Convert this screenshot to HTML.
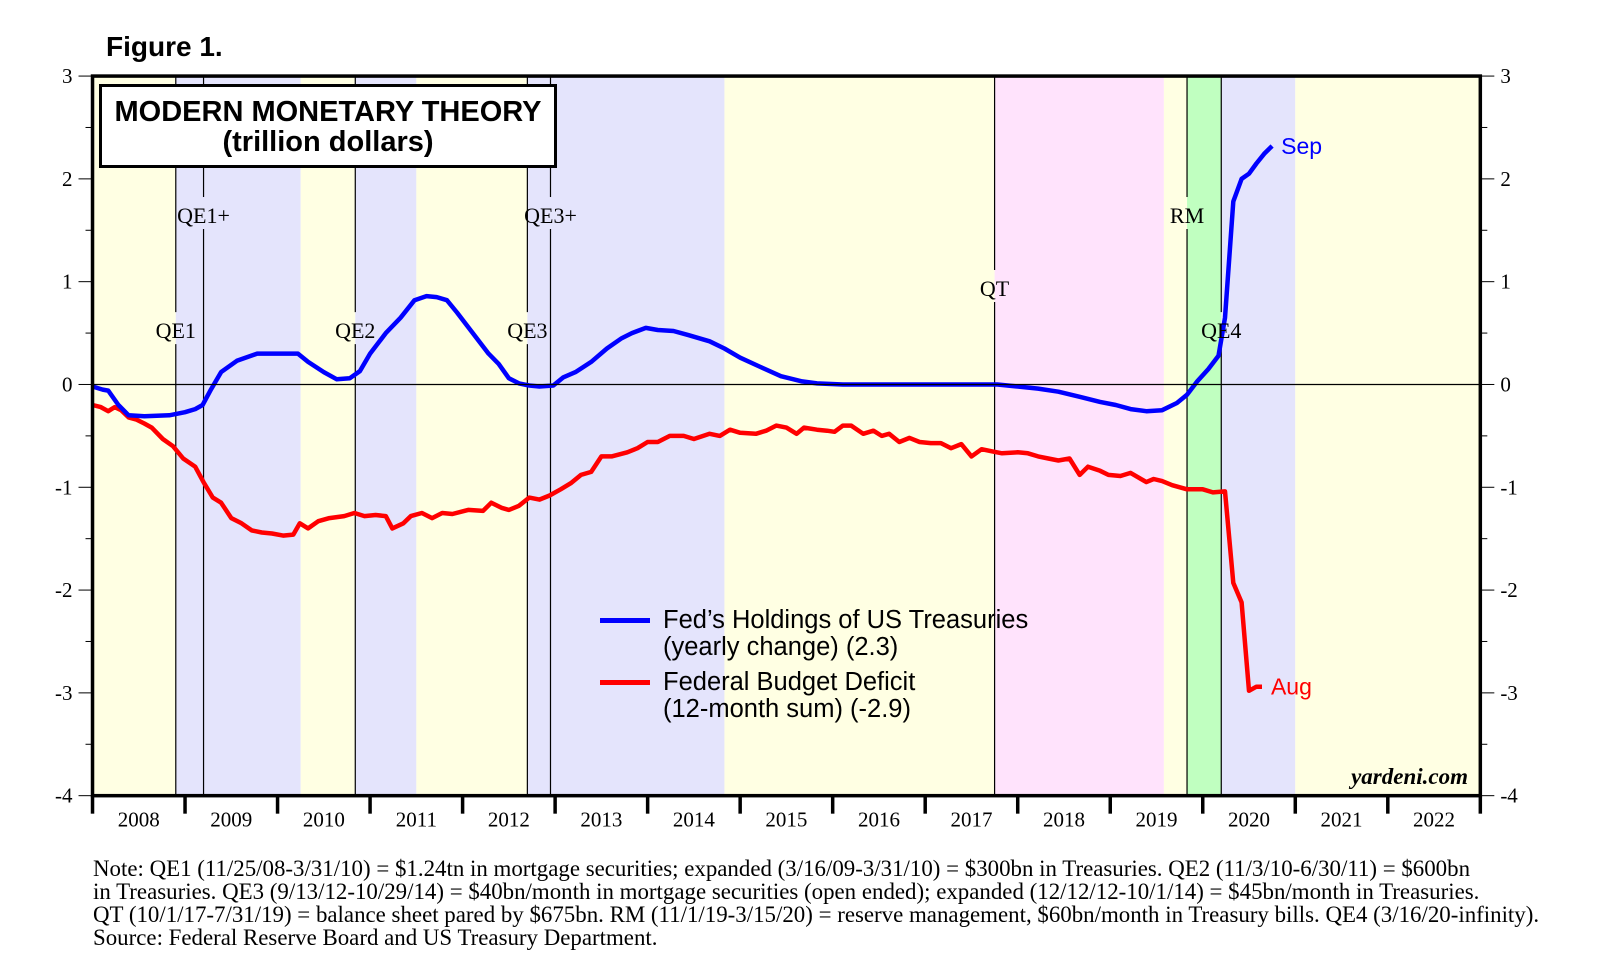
<!DOCTYPE html>
<html><head><meta charset="utf-8"><style>
body{margin:0;background:#fff}
svg{display:block}
text{font-family:"Liberation Serif",serif}
</style></head><body>
<svg id="chart" width="1610" height="961" viewBox="0 0 1610 961">
<g id="bands"></g>
<g id="vlines"></g>
<g id="series"></g>
<g id="axes"></g>
<g id="labels"></g>
</svg>
<script>
const bandStarts=[2008,2008.9,2010.25,2010.84,2011.5,2012.7,2014.83,2017.75,2019.58,2019.83,2020.2,2021.0];
const bandEnds=[2008.9,2010.25,2010.84,2011.5,2012.7,2014.83,2017.75,2019.58,2019.83,2020.2,2021.0,2023];
const bandColors=['#ffffe3','#e4e4fc','#ffffe3','#e4e4fc','#ffffe3','#e4e4fc','#ffffe3','#ffe3fc','#ffffe3','#c0ffc0','#e4e4fc','#ffffe3'];
const eventNames=['QE1','QE1+','QE2','QE3','QE3+','QT','RM','QE4'];
const eventDates=[2008.9,2009.2,2010.84,2012.7,2012.95,2017.75,2019.83,2020.2];
const eventLabelVals=[0.47,1.59,0.47,0.47,1.59,0.88,1.59,0.47];
const yTicks=[3,2,1,0,-1,-2,-3,-4];
const yearLabels=['2008','2009','2010','2011','2012','2013','2014','2015','2016','2017','2018','2019','2020','2021','2022'];
const fedYears=[0,0.11,0.17,0.28,0.39,0.56,0.83,1.0,1.11,1.19,1.28,1.39,1.56,1.78,2.0,2.22,2.33,2.5,2.64,2.78,2.89,3.0,3.17,3.33,3.48,3.61,3.72,3.83,3.94,4.11,4.28,4.39,4.5,4.61,4.72,4.83,4.98,5.09,5.22,5.39,5.56,5.72,5.83,5.98,6.11,6.28,6.44,6.67,6.83,7.0,7.22,7.44,7.67,7.83,8.11,9.0,9.78,10.0,10.22,10.44,10.67,10.89,11.06,11.22,11.39,11.56,11.72,11.83,11.94,12.06,12.17,12.24,12.33,12.42,12.5,12.58,12.67,12.75];
const fedValues=[-0.02,-0.05,-0.06,-0.2,-0.3,-0.31,-0.3,-0.27,-0.24,-0.2,-0.05,0.12,0.23,0.3,0.3,0.3,0.22,0.12,0.05,0.06,0.13,0.3,0.5,0.65,0.82,0.86,0.85,0.82,0.7,0.5,0.3,0.2,0.06,0.01,-0.01,-0.02,-0.01,0.07,0.12,0.22,0.35,0.45,0.5,0.55,0.53,0.52,0.48,0.42,0.35,0.26,0.17,0.08,0.03,0.01,0,0,0,-0.02,-0.04,-0.07,-0.12,-0.17,-0.2,-0.24,-0.26,-0.25,-0.18,-0.1,0.03,0.15,0.28,0.65,1.78,2.0,2.05,2.15,2.25,2.32];
const defYears=[0,0.09,0.17,0.24,0.31,0.39,0.47,0.56,0.64,0.76,0.87,0.98,1.11,1.2,1.3,1.39,1.5,1.61,1.72,1.83,1.94,2.06,2.17,2.24,2.33,2.44,2.56,2.72,2.83,2.94,3.06,3.17,3.24,3.36,3.44,3.56,3.67,3.78,3.89,4.06,4.22,4.31,4.42,4.5,4.61,4.72,4.83,4.94,5.06,5.17,5.28,5.39,5.5,5.61,5.78,5.89,6.0,6.11,6.24,6.39,6.5,6.67,6.78,6.89,7.0,7.17,7.28,7.39,7.5,7.61,7.69,7.83,7.94,8.02,8.11,8.2,8.33,8.44,8.53,8.61,8.72,8.83,8.94,9.06,9.17,9.28,9.39,9.5,9.61,9.72,9.83,10.0,10.11,10.22,10.33,10.44,10.56,10.67,10.76,10.89,10.98,11.11,11.22,11.39,11.47,11.56,11.67,11.83,12.0,12.11,12.24,12.33,12.42,12.5,12.58,12.64];
const defValues=[-0.2,-0.22,-0.26,-0.22,-0.25,-0.32,-0.34,-0.38,-0.42,-0.53,-0.6,-0.72,-0.8,-0.95,-1.1,-1.15,-1.3,-1.35,-1.42,-1.44,-1.45,-1.47,-1.46,-1.35,-1.4,-1.33,-1.3,-1.28,-1.25,-1.28,-1.27,-1.28,-1.4,-1.35,-1.28,-1.25,-1.3,-1.25,-1.26,-1.22,-1.23,-1.15,-1.2,-1.22,-1.18,-1.1,-1.12,-1.08,-1.02,-0.96,-0.88,-0.85,-0.7,-0.7,-0.66,-0.62,-0.56,-0.56,-0.5,-0.5,-0.53,-0.48,-0.5,-0.44,-0.47,-0.48,-0.45,-0.4,-0.42,-0.48,-0.42,-0.44,-0.45,-0.46,-0.4,-0.4,-0.48,-0.45,-0.5,-0.48,-0.56,-0.52,-0.56,-0.57,-0.57,-0.62,-0.58,-0.7,-0.63,-0.65,-0.67,-0.66,-0.67,-0.7,-0.72,-0.74,-0.72,-0.88,-0.8,-0.84,-0.88,-0.89,-0.86,-0.95,-0.92,-0.94,-0.98,-1.02,-1.02,-1.05,-1.04,-1.93,-2.12,-2.98,-2.94,-2.94];

const NS='http://www.w3.org/2000/svg';
const k=1.028;
const L=90*k,R=1440*k,T=74*k,B=774*k;
const x=t=>L+(t-2008)/15*(R-L);
const y=v=>T+(3-v)/7*(B-T);
function mk(parent,tag,attrs,txt){const e=document.createElementNS(NS,tag);for(const a in attrs)e.setAttribute(a,attrs[a]);if(txt!==undefined)e.textContent=txt;document.getElementById(parent).appendChild(e);return e;}

bandStarts.forEach((s,i)=>{const r=mk('bands','rect',{x:x(s),y:T,width:x(bandEnds[i])-x(s),height:B-T,fill:bandColors[i]});

});

eventDates.forEach((d,i)=>{const ly=y(eventLabelVals[i]);
const l1=mk('vlines','line',{x1:x(d),x2:x(d),y1:T,y2:ly-24,stroke:'#000','stroke-width':1.2});


const l2=mk('vlines','line',{x1:x(d),x2:x(d),y1:ly+8,y2:B,stroke:'#000','stroke-width':1.2});


const t=mk('labels','text',{x:x(d),y:ly+2,'text-anchor':'middle','font-size':22},eventNames[i]);

});

const zl=mk('axes','line',{x1:L,x2:R,y1:y(0),y2:y(0),stroke:'#000','stroke-width':1.2});



function path(xs,vs,col,name){let d='';xs.forEach((t,i)=>{d+=(i?'L':'M')+x(2008+t).toFixed(1)+','+y(vs[i]).toFixed(1);});
const p=mk('series','path',{d:d,fill:'none',stroke:col,'stroke-width':4.5,'stroke-linejoin':'round'});

}
path(defYears,defValues,'#ff0000','deficit-line');
path(fedYears,fedValues,'#0000ff','fed-holdings-line');

const fr=mk('axes','rect',{x:L,y:T,width:R-L,height:B-T,fill:'none',stroke:'#000','stroke-width':3.5});



yTicks.forEach(v=>{
[[L-14,L,L-20,'end'],[R,R+14,R+20,'start']].forEach(s=>{
const tl=mk('axes','line',{x1:s[0],x2:s[1],y1:y(v),y2:y(v),stroke:'#000','stroke-width':1});


const tx=mk('axes','text',{x:s[2],y:y(v)+7,'text-anchor':s[3],'font-size':21},String(v));


if(v>-4){const m=mk('axes','line',{x1:s[3]==='end'?L-7:R,x2:s[3]==='end'?L:R+7,y1:y(v-0.5),y2:y(v-0.5),stroke:'#000','stroke-width':1});

}
});});

yearLabels.forEach((lab,i)=>{
const tk=mk('axes','line',{x1:x(2008+i),x2:x(2008+i),y1:B,y2:B+18,stroke:'#000','stroke-width':3.5});


const tx=mk('axes','text',{x:x(2008.5+i),y:B+31,'text-anchor':'middle','font-size':21},lab);

});
const tk2=mk('axes','line',{x1:x(2023),x2:x(2023),y1:B,y2:B+18,stroke:'#000','stroke-width':3.5});



const e1=mk('labels','text',{x:x(2020.75)+9,y:y(2.32)+8,fill:'#0000ff','font-size':23,style:'font-family:"Liberation Sans",sans-serif'},'Sep');


const e2=mk('labels','text',{x:x(2020.64)+9,y:y(-2.94)+8,fill:'#ff0000','font-size':23,style:'font-family:"Liberation Sans",sans-serif'},'Aug');


</script>
<div style="position:absolute;left:106px;top:31px;font:bold 28px 'Liberation Sans',sans-serif">Figure 1.</div>
<div style="position:absolute;left:99px;top:84px;width:458px;height:84px;border:3px solid #000;background:#fff;text-align:center;font:bold 29px/30px 'Liberation Sans',sans-serif;padding-top:10px;box-sizing:border-box">MODERN MONETARY THEORY<br>(trillion dollars)</div>
<div style="position:absolute;left:600px;top:607px;font:25.5px/27px 'Liberation Sans',sans-serif;white-space:nowrap">
<div style="position:relative;padding-left:63px"><span style="position:absolute;left:0;top:11px;width:50px;height:5px;background:#0000ff"></span>Fed’s Holdings of US Treasuries<br>(yearly change) (2.3)</div>
<div style="position:relative;padding-left:63px;margin-top:8px"><span style="position:absolute;left:0;top:11px;width:50px;height:5px;background:#ff0000"></span>Federal Budget Deficit<br>(12-month sum) (-2.9)</div>
</div>
<div style="position:absolute;left:1268px;width:200px;text-align:right;top:764px;font:bold italic 23px 'Liberation Serif',serif">yardeni.com</div>
<div style="position:absolute;left:93px;top:857px;width:1520px;font:22.9px/23px 'Liberation Serif',serif;white-space:nowrap">Note: QE1 (11/25/08-3/31/10) = $1.24tn in mortgage securities; expanded (3/16/09-3/31/10) = $300bn in Treasuries. QE2 (11/3/10-6/30/11) = $600bn<br>in Treasuries. QE3 (9/13/12-10/29/14) = $40bn/month in mortgage securities (open ended); expanded (12/12/12-10/1/14) = $45bn/month in Treasuries.<br>QT (10/1/17-7/31/19) = balance sheet pared by $675bn. RM (11/1/19-3/15/20) = reserve management, $60bn/month in Treasury bills. QE4 (3/16/20-infinity).<br>Source: Federal Reserve Board and US Treasury Department.</div>
</body></html>
